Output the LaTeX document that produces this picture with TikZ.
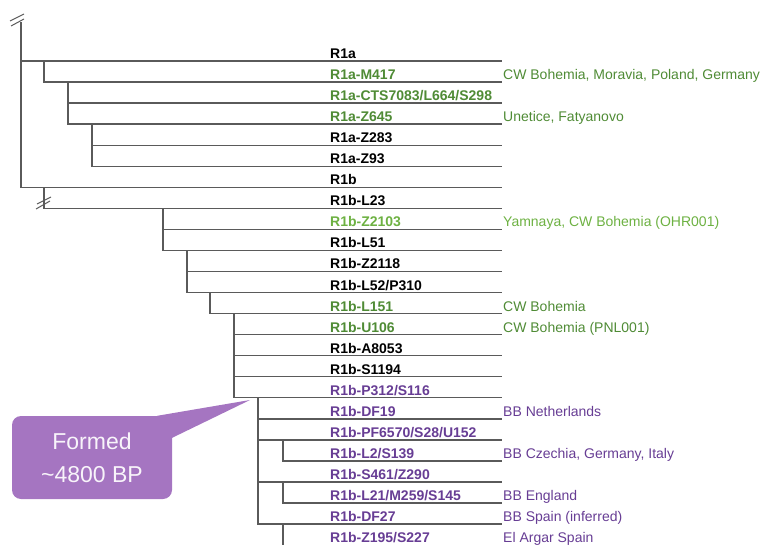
\documentclass[tikz,border=0pt]{standalone}
\usepackage{fontspec}
\setmainfont{Liberation Sans}
\usepackage{xcolor}
\usepackage{tikz}
\usetikzlibrary{positioning}
\definecolor{HGreen}{HTML}{4F8B35}
\definecolor{HLime}{HTML}{6DB142}
\definecolor{HPurple}{HTML}{673D94}
\definecolor{HBubble}{HTML}{A575C1}
\definecolor{HGray}{HTML}{5A5A5A}

\begin{document}
\begin{tikzpicture}[
  x=1pt,y=-1pt,
  every node/.style={font=\fontsize{14}{16}\selectfont,inner sep=0pt},
  hap/.style={anchor=base west,font=\fontsize{14}{16}\selectfont\bfseries},
  site/.style={anchor=base west},
  br/.style={draw=HGray,line width=1.3pt,line cap=rect},
  brk/.style={draw=HGray,line width=1pt},
  bubble/.style={fill=HBubble,rounded corners=9pt,minimum width=160pt,
    minimum height=83pt,align=center,text=white!92!HBubble,
    font=\fontsize{23}{33}\selectfont}
]
  \useasboundingbox (0,0) rectangle (760,545);
  % one row per haplogroup: index / start of branch / label / colour
  \foreach \i/\bx/\lab/\col in {0/21/R1a/black, 1/44/R1a-M417/HGreen,
      2/68/{R1a-CTS7083/L664/S298}/HGreen, 3/68/R1a-Z645/HGreen,
      4/92/R1a-Z283/black, 5/92/R1a-Z93/black, 6/21/R1b/black,
      7/44/R1b-L23/black, 8/163/R1b-Z2103/HLime, 9/163/R1b-L51/black,
      10/187/R1b-Z2118/black, 11/187/{R1b-L52/P310}/black,
      12/210/R1b-L151/HGreen, 13/234/R1b-U106/HGreen,
      14/234/R1b-A8053/black, 15/234/R1b-S1194/black,
      16/234/{R1b-P312/S116}/HPurple, 17/258/R1b-DF19/HPurple,
      18/258/{R1b-PF6570/S28/U152}/HPurple, 19/283/{R1b-L2/S139}/HPurple,
      20/258/{R1b-S461/Z290}/HPurple, 21/283/{R1b-L21/M259/S145}/HPurple,
      22/258/R1b-DF27/HPurple, 23/283/{R1b-Z195/S227}/HPurple}
  {
    \coordinate (b\i) at (\bx,61+21.05*\i);
    \coordinate (r\i) at (501,61+21.05*\i);
    \draw[br] (b\i) -- (r\i);
    \node[hap,text=\col] (l\i) at ([yshift=2.5pt]330,61+21.05*\i) {\lab};
  }

  % vertical branches: child / parent row / last child
  \coordinate (top) at (21,23);
  \draw[br] (top) -- (b6);
  \foreach \c/\p/\e in {1/0/1,2/1/3,4/3/5,7/6/7,8/7/9,10/9/11,12/11/12,
      13/12/16,17/16/22,19/18/19,21/20/21,23/22/23}
    {\draw[br] (b\c |- b\p) -- (b\e);}

  % breaks
  \draw[brk] (10,21) -- (24,14) (11,26) -- (24,19);
  \draw[brk] (37,204) -- (51,197) (36,209) -- (50,201);

  \node[site,text=HGreen] (d1) at ([xshift=2pt,yshift=2.5pt]r1) {CW Bohemia, Moravia, Poland, Germany};
  \node[site,text=HGreen] (d3) at ([xshift=2pt,yshift=2.5pt]r3) {Unetice, Fatyanovo};
  \node[site,text=HLime] (d8) at ([xshift=2pt,yshift=2.5pt]r8) {Yamnaya, CW Bohemia (OHR001)};
  \node[site,text=HGreen] (d12) at ([xshift=2pt,yshift=2.5pt]r12) {CW Bohemia};
  \node[site,text=HGreen] (d13) at ([xshift=2pt,yshift=2.5pt]r13) {CW Bohemia (PNL001)};
  \node[site,text=HPurple] (d17) at ([xshift=2pt,yshift=2.5pt]r17) {BB Netherlands};
  \node[site,text=HPurple] (d19) at ([xshift=2pt,yshift=2.5pt]r19) {BB Czechia, Germany, Italy};
  \node[site,text=HPurple] (d21) at ([xshift=2pt,yshift=2.5pt]r21) {BB England};
  \node[site,text=HPurple] (d22) at ([xshift=2pt,yshift=2.5pt]r22) {BB Spain (inferred)};
  \node[site,text=HPurple] (d23) at ([xshift=2pt,yshift=2.5pt]r23) {El Argar Spain};

  % callout
  \node[bubble] (note) at (92,457.5) {Formed\\\textasciitilde4800 BP};
  \coordinate (ptip) at (250,400);
  \fill[HBubble] ([xshift=-15pt]note.north east) -- (ptip)
    -- ([yshift=-22pt]note.north east) -- cycle;
\end{tikzpicture}
\end{document}
